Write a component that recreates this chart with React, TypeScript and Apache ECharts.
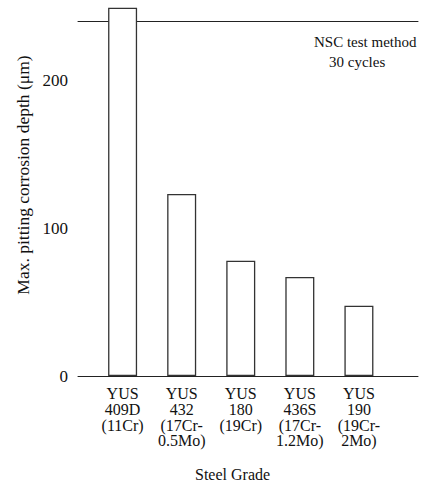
import React, { useEffect, useRef } from "react";
import * as echarts from "echarts";

const categories = [
  "YUS\n409D\n(11Cr)",
  "YUS\n432\n(17Cr-\n0.5Mo)",
  "YUS\n180\n(19Cr)",
  "YUS\n436S\n(17Cr-\n1.2Mo)",
  "YUS\n190\n(19Cr-\n2Mo)",
];
const depths = [249, 123, 78, 67, 47.5];
const yTicks = [0, 100, 200];
const yTitle = "Max. pitting corrosion depth (\u03bcm)";
const xTitle = "Steel Grade";
const noteLines = ["NSC test method", "30 cycles"];

const FONT = "Times New Roman, Liberation Serif, serif";

export default function App() {
  const ref = useRef<HTMLDivElement>(null);
  useEffect(() => {
    if (!ref.current) return;
    const chart = echarts.init(ref.current, undefined, { renderer: "svg" });
    const positions = categories.map((_, i) => i);
    chart.setOption({
      animation: false,
      backgroundColor: "#fff",
      grid: { left: 78, right: 9, top: 21, bottom: 109, containLabel: false },
      xAxis: [
        {
          type: "value",
          min: -0.755,
          max: 5,
          position: "bottom",
          splitLine: { show: false },
          axisLine: { show: true, lineStyle: { color: "#222", width: 1 } },
          axisTick: { show: false },
          axisLabel: {
            customValues: positions,
            formatter: (v: number) => categories[Math.round(v)] ?? "",
            fontFamily: FONT,
            fontSize: 16,
            lineHeight: 15.7,
            color: "#111",
            margin: 10,
            align: "center",
          },
        },
        {
          type: "value",
          min: -0.755,
          max: 5,
          position: "top",
          splitLine: { show: false },
          axisLine: { show: true, lineStyle: { color: "#222", width: 1 } },
          axisTick: { show: false },
          axisLabel: { show: false },
        },
      ],
      yAxis: {
        type: "value",
        min: 0,
        max: 240,
        splitLine: { show: false },
        axisLine: { show: true, lineStyle: { color: "#222", width: 1 } },
        axisTick: {
          show: true,
          inside: true,
          length: 10,
          customValues: yTicks,
          lineStyle: { color: "#222", width: 1 },
        },
        axisLabel: {
          customValues: yTicks,
          fontFamily: FONT,
          fontSize: 17,
          color: "#111",
          margin: 10,
        },
      },
      series: [
        {
          type: "bar",
          xAxisIndex: 0,
          clip: false,
          barWidth: 29,
          data: depths.map((d, i) => [i, d]),
          itemStyle: { color: "#fff", borderColor: "#333", borderWidth: 1.3 },
        },
      ],
      graphic: [
        {
          type: "text",
          x: 23,
          y: 175,
          rotation: Math.PI / 2,
          style: {
            text: yTitle,
            fontFamily: FONT,
            fontSize: 17.5,
            fill: "#111",
            align: "center",
            verticalAlign: "middle",
          },
        },
        {
          type: "text",
          left: 314,
          top: 34,
          style: { text: noteLines[0], fontFamily: FONT, fontSize: 15, fill: "#111" },
        },
        {
          type: "text",
          left: 329,
          top: 54,
          style: { text: noteLines[1], fontFamily: FONT, fontSize: 15, fill: "#111" },
        },
        {
          type: "text",
          left: 195,
          top: 466,
          style: { text: xTitle, fontFamily: FONT, fontSize: 16, fill: "#111" },
        },
      ],
    });
    return () => chart.dispose();
  }, []);
  return (
    <div
      ref={ref}
      style={{ position: "fixed", left: 0, top: 0, width: 427, height: 485 }}
    />
  );
}
